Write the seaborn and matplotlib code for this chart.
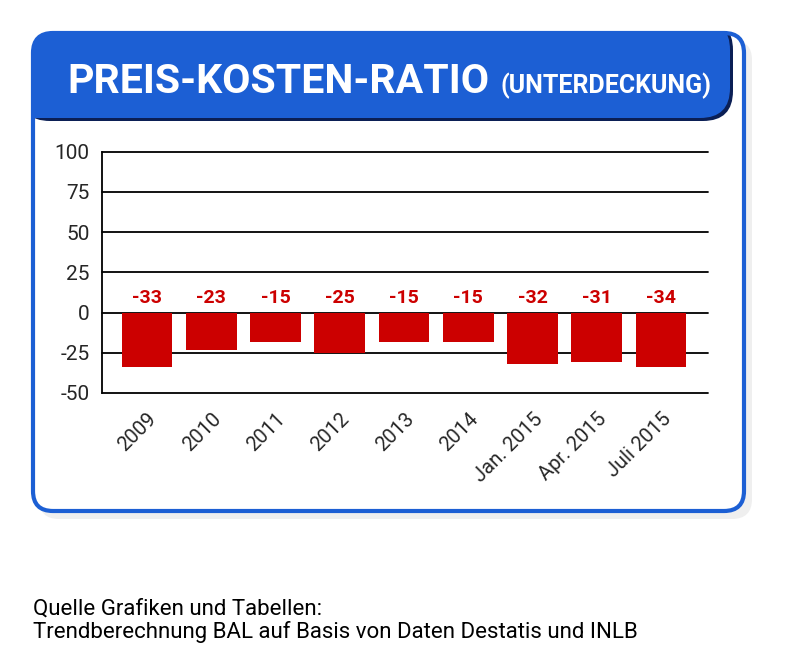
import matplotlib
matplotlib.use('Agg')
import matplotlib.pyplot as plt
import seaborn as sns
from matplotlib import font_manager
from matplotlib.patches import FancyBboxPatch, Rectangle

kategorien = ['2009', '2010', '2011', '2012', '2013', '2014', 'Jan. 2015', 'Apr. 2015', 'Juli 2015']
# bar heights as drawn in the original graphic
balken = [-34, -23.5, -18, -25, -18, -18, -32, -30.5, -34]
# printed values above the bars
werte = [-33, -23, -15, -25, -15, -15, -32, -31, -34]
y_ticks = [-50, -25, 0, 25, 50, 75, 100]

titel = 'PREIS-KOSTEN-RATIO'
untertitel = '(UNTERDECKUNG)'
quelle = ['Quelle Grafiken und Tabellen:',
          'Trendberechnung BAL auf Basis von Daten Destatis und INLB']

BLAU = '#1c5fd4'
ROT = '#cc0000'


def schrift(*namen):
    vorhanden = {f.name for f in font_manager.fontManager.ttflist}
    for n in namen:
        if n in vorhanden:
            return n
    return 'DejaVu Sans'


narrow = schrift('Liberation Sans Narrow', 'Roboto', 'Liberation Sans')
sns.set_style('white')
plt.rcParams['font.family'] = [narrow, 'DejaVu Sans']
plt.rcParams['axes.unicode_minus'] = False

fig = plt.figure(figsize=(8, 6.47), dpi=100)

# background layer in pixel coordinates
bg = fig.add_axes([0, 0, 1, 1], zorder=0)
bg.set_xlim(0, 800)
bg.set_ylim(647, 0)
bg.axis('off')

schatten = FancyBboxPatch((39, 40), 713, 479, boxstyle='round,pad=0,rounding_size=20',
                          facecolor='#efefef', edgecolor='none')
bg.add_patch(schatten)
box = FancyBboxPatch((33, 33), 711, 478, boxstyle='round,pad=0,rounding_size=20',
                     facecolor='white', edgecolor='none')
bg.add_patch(box)

kopf_schatten = FancyBboxPatch((20, 20), 713, 101, boxstyle='round,pad=0,rounding_size=30',
                               facecolor='#0b1f55', edgecolor='none')
bg.add_patch(kopf_schatten)
kopf_schatten.set_clip_path(box)
kopf = FancyBboxPatch((20, 20), 710, 98, boxstyle='round,pad=0,rounding_size=30',
                      facecolor=BLAU, edgecolor='none')
bg.add_patch(kopf)
kopf.set_clip_path(box)
ecke = Rectangle((20, 60), 60, 58, facecolor=BLAU, edgecolor='none')
bg.add_patch(ecke)
ecke.set_clip_path(box)

rand = FancyBboxPatch((33, 33), 711, 478, boxstyle='round,pad=0,rounding_size=20',
                      facecolor='none', edgecolor=BLAU, linewidth=3)
bg.add_patch(rand)

bg.text(67, 93, titel, color='white', fontsize=29.5, fontweight='bold', va='baseline', ha='left')
bg.text(500, 93, untertitel, color='white', fontsize=18, fontweight='bold', va='baseline', ha='left')
bg.text(33, 609, quelle[0], color='black', fontsize=16, va='center', ha='left')
bg.text(33, 632, quelle[1], color='black', fontsize=16, va='center', ha='left')

# chart
ax = fig.add_axes([102 / 800, 1 - 393 / 647, 606 / 800, (393 - 151.7) / 647], zorder=1)
ax.patch.set_alpha(0)
sns.barplot(x=kategorien, y=balken, color=ROT, saturation=1, width=0.79, ax=ax,
            zorder=3, edgecolor='none', linewidth=0)

for i, w in enumerate(werte):
    ax.text(i, 9.3, f'{w}', color=ROT, fontsize=14, fontweight='bold', ha='center', va='center')

ax.set_ylim(-50, 100)
ax.set_xlim(-0.7, 8.73)
ax.set_yticks(y_ticks)
for t in y_ticks:
    ax.axhline(t, color='black', linewidth=1.3, zorder=1, clip_on=False)
ax.tick_params(axis='both', length=0)
ax.tick_params(axis='y', pad=9, labelsize=15)
ax.tick_params(axis='x', pad=12)
plt.setp(ax.get_xticklabels(), rotation=45, ha='right', va='top', rotation_mode='anchor', fontsize=14.5)
for s in ['top', 'right', 'bottom']:
    ax.spines[s].set_visible(False)
ax.spines['left'].set_color('black')
ax.spines['left'].set_linewidth(1.3)
ax.set_xlabel('')
ax.set_ylabel('')

fig.savefig('out.png', dpi=100, facecolor='white')
